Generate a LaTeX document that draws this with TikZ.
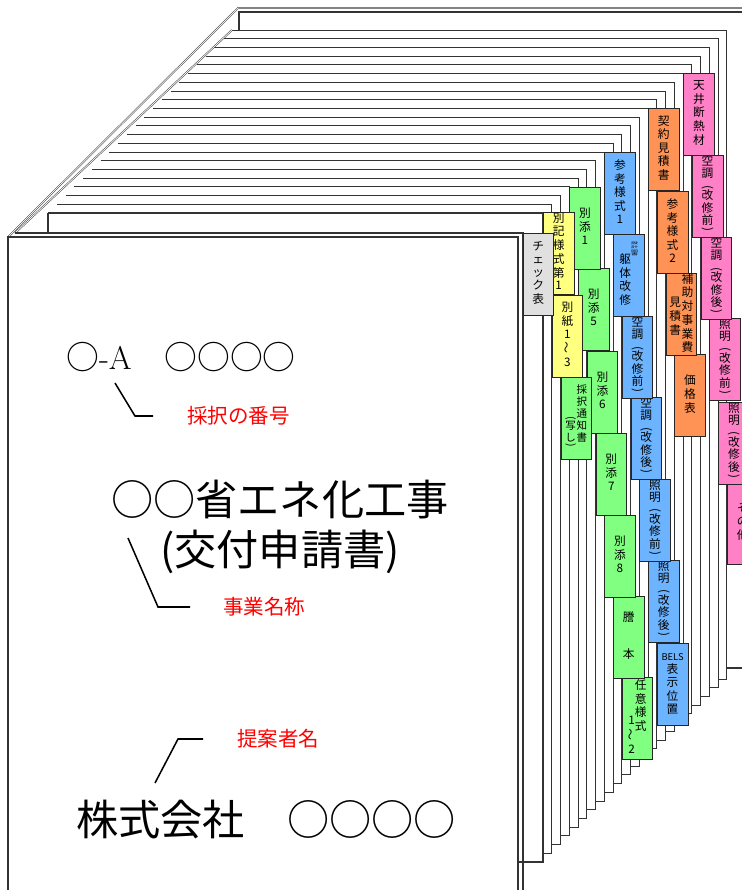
\documentclass[tikz,border=0pt]{standalone}
\usepackage{fontspec}
\usepackage{xcolor}
\usepackage{tikz}
\usetikzlibrary{positioning}
\newfontfamily\jp{Noto Sans CJK JP}
\definecolor{tabgray}{HTML}{E0E0E0}
\definecolor{tabyellow}{HTML}{FFFF80}
\definecolor{tabgreen}{HTML}{80FF80}
\definecolor{tabblue}{HTML}{6CB4FF}
\definecolor{taborange}{HTML}{FF9355}
\definecolor{tabpink}{HTML}{FF80C6}
\newcommand{\tate}[1]{\begin{tabular}[t]{@{}c@{}}#1\end{tabular}}
\newcommand{\kakkoL}{\rotatebox[origin=c]{-90}{(}}
\newcommand{\kakkoR}{\rotatebox[origin=c]{-90}{)}}
\newcommand{\kaishu}[1]{\kakkoL\\[-4pt]改\\[-1pt]修\\[-1pt]#1\\[-4pt]\kakkoR}
\newcommand{\nami}{\rotatebox{90}{～}}
\tikzset{
  sheet/.style={draw=black!80, line width=0.9pt},
  board/.style={draw=black!80, line width=0.9pt},
  spine/.style={draw=black!75, line width=0.45pt, double=white, double distance=0.6pt},
  tab/.style={draw=black!85, line width=0.6pt, anchor=north west, minimum width=9.2mm,
    minimum height=24.6mm, inner sep=0pt, font=\jp\fontsize{10}{11}\selectfont},
  leader/.style={line width=1.3pt},
  note/.style={text=red, inner sep=0pt, font=\jp\fontsize{17.5}{20}\selectfont},
}

\begin{document}
\begin{tikzpicture}[x=0.3mm, y=-0.3mm]
  \useasboundingbox (0,0) rectangle (742,890);
  \clip (0,0) rectangle (742,890);
  \draw[board, fill=white] (239,12) rectangle (760,668);  % Back cover
  \draw[spine] (8,237) -- (238,8) -- (760,8);  % Spine
  \foreach \k in {21,20,...,0}{  % Sheets, back to front
    \pgfmathsetmacro\ytop{213-8.71*\k}
    \pgfmathsetmacro\xright{543+8.76*\k}
    \pgfmathsetmacro\ybot{862-8.71*\k}
    \pgfmathsetmacro\xdiag{15+(233-\ytop)*1.069}
    \pgfmathsetmacro\xcorner{48+8.76*\k}
    \fill[white] (\xdiag,\ytop) -- (\xright,\ytop) -- (\xright,\ybot) -- (15,\ybot) -- (15,233) -- cycle;
    \draw[sheet] (\xcorner,\ytop) -- (\xright,\ytop) -- (\xright,\ybot) -- (300,\ybot);
  }
  \draw[sheet] (48,213) -- (48,233);
  \draw[spine] (15,233) -- (232,30);
  \draw[board] (15,233) -- (523,233) -- (523,900);  % Front cover
  \draw[board, fill=white] (8,237) rectangle (518,900);

  \node[tab, fill=tabpink] (Pink-6) at (727,482) {\tate{そ\\の\\他}};  % Pink tabs
  \node[tab, fill=tabpink] (Pink-5) at (718.2,402) {\tate{照\\[-1pt]明\\\kaishu{後}}};
  \node[tab, fill=tabpink] (Pink-4) at (709.4,318) {\tate{照\\[-1pt]明\\\kaishu{前}}};
  \node[tab, fill=tabpink] (Pink-3) at (700.7,237) {\tate{空\\[-1pt]調\\\kaishu{後}}};
  \node[tab, fill=tabpink] (Pink-2) at (691.9,155) {\tate{空\\[-1pt]調\\\kaishu{前}}};
  \node[tab, fill=tabpink] (Pink-1) at (683.2,73) {\tate{天\\井\\断\\熱\\材}};
  \node[tab, fill=taborange] (Orange-4) at (674.4,354) {\tate{価\\格\\表}};  % Orange tabs
  \node[tab, fill=taborange] (Orange-3) at (665.6,273) {\raisebox{-20pt}{\tate{見\\積\\書}}\hspace{0.5pt}\tate{補\\助\\対\\事\\業\\費}};
  \node[tab, fill=taborange] (Orange-2) at (656.9,191) {\tate{参\\考\\様\\式\\2}};
  \node[tab, fill=taborange] (Orange-1) at (648.1,108) {\tate{契\\約\\見\\積\\書}};
  \node[tab, fill=tabblue] (Blue-7) at (656.9,643) {\tate{\fontsize{8}{9}\selectfont BELS\\表\\示\\位\\置}};  % Blue tabs
  \node[tab, fill=tabblue] (Blue-6) at (648.1,560) {\tate{照\\[-1pt]明\\\kaishu{後}}};
  \node[tab, fill=tabblue] (Blue-5) at (639.4,479) {\tate{照\\[-1pt]明\\\kaishu{前}}};
  \node[tab, fill=tabblue] (Blue-4) at (630.6,397) {\tate{空\\[-1pt]調\\\kaishu{後}}};
  \node[tab, fill=tabblue] (Blue-3) at (621.8,316) {\tate{空\\[-1pt]調\\\kaishu{前}}};
  \node[tab, fill=tabblue] (Blue-2) at (613.1,234) {\tate{躯\\体\\改\\修}\raisebox{16pt}{\scalebox{1}[0.45]{\fontsize{6}{6.6}\selectfont\tate{設\\計\\図\\書}}}};
  \node[tab, fill=tabblue] (Blue-1) at (604.3,152) {\tate{参\\考\\様\\式\\1}};
  \node[tab, fill=tabgreen] (Green-8) at (621.8,677) {\raisebox{-30pt}{\tate{1\\\nami\\2}}\tate{任\\意\\様\\式}};  % Green tabs
  \node[tab, fill=tabgreen] (Green-7) at (613.1,596) {\tate{謄\\[20pt]本}};
  \node[tab, fill=tabgreen] (Green-6) at (604.3,515) {\tate{別\\添\\8}};
  \node[tab, fill=tabgreen] (Green-5) at (595.6,433) {\tate{別\\添\\7}};
  \node[tab, fill=tabgreen] (Green-4) at (586.8,351) {\tate{別\\添\\6}};
  \node[tab, fill=tabgreen] (Green-2) at (578,268) {\tate{別\\添\\5}};
  \node[tab, fill=tabgreen] (Green-1) at (569.3,187) {\tate{別\\添\\1}};
  \node[tab, fill=tabgreen, font=\jp\fontsize{9}{9.5}\selectfont] (Green-3) at (560.5,377) {\raisebox{-24pt}{\tate{\kakkoL\\[-3pt]写\\し\\[-3pt]\kakkoR}}\hspace{0.5pt}\tate{採\\択\\通\\知\\書}};
  \node[tab, fill=tabyellow] (Yellow-2) at (551.8,295) {\tate{別\\紙\\1\\\nami\\3}};  % Yellow tabs
  \node[tab, fill=tabyellow] (Yellow-1) at (543,212) {\tate{別\\記\\様\\式\\第\\1}};
  \node[tab, fill=tabgray, minimum width=9mm] (Gray-1) at (523,233) {\tate{チ\\ェ\\ッ\\ク\\表}};  % Check list

  \node[font=\jp\fontsize{28}{30}\selectfont] (Number) at (181,357) {○{\rmfamily -A}　○○○○};  % Cover texts
  \node[font=\jp\fontsize{36}{42.5}\selectfont, align=center] (Title) at (280,527) {○○省エネ化工事\\(交付申請書)};
  \node[font=\jp\fontsize{36}{40}\selectfont] (Firm) at (266,820) {株式会社　○○○○};

  \coordinate (Num-tip) at (115,383);  % Notes
  \coordinate (Num-knee) at (135,416);
  \node[note, right=15.6mm of Num-knee] (Num-note) {採択の番号};
  \draw[leader] (Num-tip) -- (Num-knee) -- ([xshift=-10.2mm]Num-note.west);
  \coordinate (Title-tip) at (128,538);
  \coordinate (Title-knee) at (158,607);
  \node[note, right=19.5mm of Title-knee] (Title-note) {事業名称};
  \draw[leader] (Title-tip) -- (Title-knee) -- ([xshift=-9.9mm]Title-note.west);
  \coordinate (Firm-tip) at (155,783);
  \coordinate (Firm-knee) at (178,739);
  \node[note, right=17.7mm of Firm-knee] (Firm-note) {提案者名};
  \draw[leader] (Firm-tip) -- (Firm-knee) -- ([xshift=-10.2mm]Firm-note.west);
\end{tikzpicture}
\end{document}
